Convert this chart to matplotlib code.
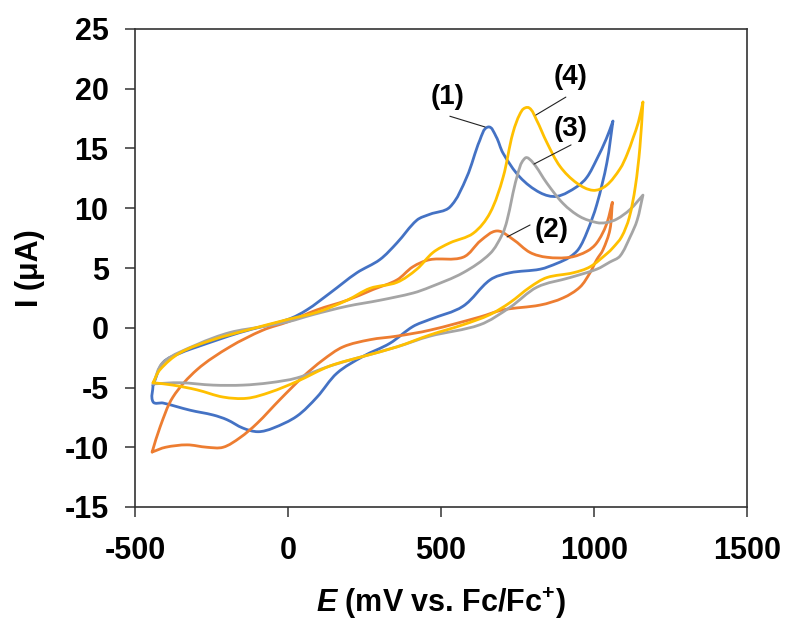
import matplotlib
matplotlib.use("Agg")
import matplotlib.pyplot as plt
import numpy as np
from matplotlib.path import Path
from matplotlib.patches import PathPatch

plt.rcParams['font.family'] = ['Liberation Sans', 'DejaVu Sans']
plt.rcParams['font.weight'] = 'bold'
plt.rcParams['axes.unicode_minus'] = False
plt.rcParams['mathtext.fontset'] = 'custom'
plt.rcParams['mathtext.rm'] = 'Liberation Sans:bold'
plt.rcParams['mathtext.bf'] = 'Liberation Sans:bold'
plt.rcParams['mathtext.it'] = 'Liberation Sans:bold:italic'

# ---- data (closed CV loops: forward branch then reverse branch) ----
blue_E = [-441, -408, -350, -297, -157, 0, 62, 137, 225, 300, 356, 421, 464, 529, 584, 627, 654, 680, 703, 758,
          824, 879, 944, 977, 1009, 1040, 1062,
          1042, 1009, 977, 950, 920, 880, 824, 725, 660, 572, 464, 408, 333, 245, 160, 95, 29, -49, -98, -147, -199,
          -245, -320, -408, -441, -441]
blue_I = [-4.8, -2.9, -2.1, -1.6, -0.4, 0.7, 1.5, 2.9, 4.6, 5.7, 7.1, 9.0, 9.5, 10.1, 12.6, 15.7, 16.8, 16.0, 14.6,
          12.6, 11.3, 11.0, 11.8, 12.6, 14.1, 15.8, 17.3,
          13.8, 10.3, 8.0, 6.6, 5.9, 5.4, 4.9, 4.6, 4.0, 1.8, 0.7, 0.1, -1.3, -2.4, -3.8, -5.8, -7.4, -8.4, -8.7, -8.4,
          -7.7, -7.3, -6.9, -6.3, -6.2, -4.8]

orange_E = [-444, -418, -376, -297, -190, -82, 0, 95, 193, 278, 356, 408, 464, 572, 630, 683, 735, 791, 846, 922,
            977, 1009, 1040, 1060,
            1052, 1029, 1009, 987, 954, 899, 824, 703, 627, 464, 356, 268, 180, 114, 49, -26, -101, -157, -212,
            -265, -330, -400, -444]
orange_I = [-10.4, -8.3, -5.8, -3.5, -1.6, -0.2, 0.5, 1.5, 2.3, 3.2, 4.0, 5.1, 5.7, 5.9, 7.3, 8.1, 7.4, 6.3, 5.9,
            5.9, 6.4, 7.1, 8.6, 10.5,
            8.2, 6.5, 5.7, 4.6, 3.4, 2.5, 1.9, 1.5, 0.9, -0.2, -0.7, -1.0, -1.6, -2.7, -4.1, -6.0, -8.0, -9.2,
            -10.0, -10.0, -9.8, -10.0, -10.4]

gray_E = [-441, -408, -297, -190, -82, 0, 82, 193, 300, 408, 464, 572, 660, 700, 716, 748, 775, 801, 846, 899, 954,
          1009, 1040, 1075, 1118, 1160,
          1141, 1118, 1085, 1052, 1009, 922, 814, 725, 627, 464, 356, 245, 137, 29, -59, -147, -245, -353, -441]
gray_I = [-4.7, -2.9, -1.4, -0.4, 0.1, 0.5, 1.1, 1.8, 2.3, 2.9, 3.4, 4.6, 6.2, 7.8, 9.0, 12.6, 14.2, 13.8, 12.1,
          10.4, 9.3, 8.8, 8.8, 9.1, 9.9, 11.1,
          9.0, 7.6, 6.0, 5.5, 4.9, 4.2, 3.4, 1.7, 0.25, -0.7, -1.6, -2.4, -3.2, -4.2, -4.6, -4.8, -4.8, -4.6, -4.7]

yellow_E = [-441, -418, -353, -245, -134, 0, 95, 193, 268, 356, 421, 474, 529, 605, 660, 703, 735, 765, 788, 812,
            846, 889, 944, 997, 1040, 1085, 1108, 1128, 1145, 1160,
            1150, 1135, 1115, 1090, 1062, 1042, 987, 932, 846, 791, 725, 660, 572, 464, 356, 245, 137, 29, -59,
            -134, -212, -297, -376, -441]
yellow_I = [-4.6, -3.5, -2.1, -1.0, -0.2, 0.7, 1.3, 2.3, 3.3, 3.8, 4.9, 6.3, 7.1, 7.9, 9.6, 12.6, 16.3, 18.2, 18.4,
            17.4, 15.5, 13.5, 12.1, 11.5, 11.9, 13.3, 14.5, 15.9, 17.2, 18.9,
            15.1, 11.8, 9.2, 7.6, 6.7, 6.2, 5.1, 4.6, 4.2, 3.4, 2.1, 1.1, 0.25, -0.6, -1.6, -2.4, -3.2, -4.5, -5.4,
            -5.9, -5.8, -5.2, -4.8, -4.6]

series = [("(1)", blue_E, blue_I, "#4472C4"),
          ("(2)", orange_E, orange_I, "#ED7D31"),
          ("(3)", gray_E, gray_I, "#A5A5A5"),
          ("(4)", yellow_E, yellow_I, "#FFC000")]

# label text position, leader start, leader end (data units)
labels = ["(1)", "(2)", "(3)", "(4)"]
label_pos = [(523, 19.3), (863, 8.2), (922, 16.6), (922, 21.0)]
leader_start = [(529, 17.7), (791, 8.6), (925, 15.3), (908, 19.3)]
leader_end = [(644, 16.8), (716, 7.6), (804, 13.7), (810, 17.8)]

x_ticks = [-500, 0, 500, 1000, 1500]
y_ticks = [-15, -10, -5, 0, 5, 10, 15, 20, 25]

fig = plt.figure(figsize=(7.87, 6.21), dpi=100)
ax = fig.add_axes([135 / 787, 1 - 507 / 621, 612 / 787, 478 / 621])
ax.set_xlim(-500, 1500)
ax.set_ylim(-15, 25)


def smooth_path(E, I):
    """Smoothed-line style: cubic Bezier segments through the given points,
    tangents computed in display space; sharp reversals are kept as corners."""
    pts = ax.transData.transform(np.column_stack([E, I]))
    n = len(pts)

    def unit(d):
        L = np.hypot(*d)
        return d / L if L > 0 else np.zeros(2)

    t_in = []
    t_out = []
    for i in range(n):
        a = pts[max(i - 1, 0)]
        b = pts[min(i + 1, n - 1)]
        u_in = unit(pts[i] - a)
        u_out = unit(b - pts[i])
        if 0 < i < n - 1 and np.dot(u_in, u_out) < -0.5:
            t_in.append(u_in)
            t_out.append(u_out)
        else:
            t = unit(b - a)
            t_in.append(t)
            t_out.append(t)

    verts = [pts[0]]
    codes = [Path.MOVETO]
    for i in range(n - 1):
        p1, p2 = pts[i], pts[i + 1]
        seg = np.hypot(*(p2 - p1))
        c1 = p1 + t_out[i] * seg / 3.0
        c2 = p2 - t_in[i + 1] * seg / 3.0
        verts += [c1, c2, p2]
        codes += [Path.CURVE4] * 3
    verts = ax.transData.inverted().transform(np.array(verts))
    return Path(verts, codes)


for name, E, I, c in series:
    ax.add_patch(PathPatch(smooth_path(E, I), fill=False, edgecolor=c, lw=2.0,
                           joinstyle='round', capstyle='round'))

for lab, p, s, e in zip(labels, label_pos, leader_start, leader_end):
    ax.annotate("", xy=e, xytext=s,
                arrowprops=dict(arrowstyle='-', color='#222222', lw=0.8, shrinkA=0, shrinkB=0))
    ax.text(p[0], p[1], lab, ha='center', va='center', fontsize=20, fontweight='bold', color='black')

ax.set_xticks(x_ticks)
ax.set_yticks(y_ticks)
ax.tick_params(direction='out', length=7, width=1.1, color='#333333', labelsize=22)
ax.tick_params(axis='x', pad=14)
ax.tick_params(axis='y', pad=12)
for lbl in ax.get_xticklabels() + ax.get_yticklabels():
    lbl.set_fontweight('bold')
for sp in ax.spines.values():
    sp.set_linewidth(1.2)
    sp.set_color('#333333')

ax.text(0.5, (507 - 603) / 478, r"$\mathit{E}$ (mV vs. Fc/Fc$^{+}$)", transform=ax.transAxes,
        ha='center', va='center', fontsize=22, fontweight='bold')
ax.text((30 - 135) / 612, 0.5, "I (μA)", transform=ax.transAxes, rotation=90,
        ha='center', va='center', fontsize=22, fontweight='bold')

fig.savefig("out.png", dpi=100)
